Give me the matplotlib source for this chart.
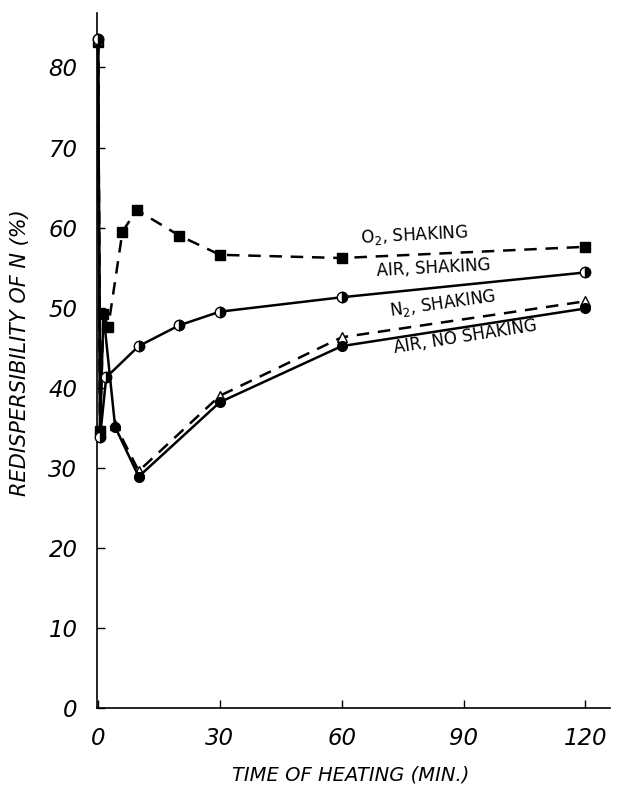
import matplotlib
matplotlib.use("Agg")
import matplotlib.pyplot as plt

# ---- data ----
o2_x = [0, 0.5, 1.3, 2.5, 6, 9.5, 20, 30, 60, 120]
o2_y = [83.2, 34.6, 49.2, 47.6, 59.5, 62.2, 59.0, 56.6, 56.2, 57.6]

airsh_x = [0, 0.5, 2, 10, 20, 30, 60, 120]
airsh_y = [83.5, 33.9, 41.3, 45.2, 47.8, 49.5, 51.3, 54.4]

n2_x = [0, 0.5, 4.2, 10, 30, 60, 120]
n2_y = [83.4, 34.4, 35.4, 29.6, 39.0, 46.3, 50.8]

airns_x = [0, 0.5, 1.3, 4.2, 10, 30, 60, 120]
airns_y = [83.5, 34.4, 49.3, 35.1, 28.9, 38.2, 45.2, 49.9]

xticks = [0, 30, 60, 90, 120]
yticks = [0, 10, 20, 30, 40, 50, 60, 70, 80]

labels = ["O$_2$, SHAKING", "AIR, SHAKING", "N$_2$, SHAKING", "AIR, NO SHAKING"]

fig = plt.figure(figsize=(6.21, 7.88), dpi=100)
ax = fig.add_axes([0.156, 0.1015, 0.826, 0.882])

lw = 1.8
ax.plot(o2_x, o2_y, ls=(0, (5, 3.5)), color="black", lw=lw, marker="s", ms=6.5,
        mfc="black", mec="black", clip_on=False, zorder=3)
ax.plot(airsh_x, airsh_y, ls="-", color="black", lw=lw, marker="o", ms=7.5,
        fillstyle="right", mfc="black", mfcalt="white", mec="black", mew=1.0,
        clip_on=False, zorder=4)
ax.plot(n2_x, n2_y, ls=(0, (5, 3.5)), color="black", lw=lw, marker="^", ms=7,
        mfc="white", mec="black", mew=1.0, clip_on=False, zorder=3)
ax.plot(airns_x, airns_y, ls="-", color="black", lw=lw, marker="o", ms=7,
        mfc="black", mec="black", clip_on=False, zorder=3)

ax.set_xlim(-0.3, 126)
ax.set_ylim(0, 86.8)

for s in ["top", "right"]:
    ax.spines[s].set_visible(False)
for s in ["left", "bottom"]:
    ax.spines[s].set_linewidth(1.2)

ax.set_xticks(xticks)
ax.set_yticks(yticks)
ax.tick_params(direction="in", length=6, width=1.0, labelsize=16.5)
ax.tick_params(axis="x", pad=14)
ax.tick_params(axis="y", pad=14)
for t in ax.get_xticklabels() + ax.get_yticklabels():
    t.set_fontstyle("italic")

fig.text(0.565, 0.017, "TIME OF HEATING (MIN.)", fontsize=14, fontstyle="italic",
         ha="center", va="center")
ax.set_ylabel("REDISPERSIBILITY OF N (%)", fontsize=15, fontstyle="italic",
              va="center", ha="center")
ax.yaxis.set_label_coords(-0.15, 0.511)

tkw = dict(fontsize=12, color="black", ha="left", va="bottom")
ax.text(64.5, 57.4, labels[0], rotation=3, **tkw)
ax.text(68.5, 53.4, labels[1], rotation=3, **tkw)
ax.text(71.5, 48.3, labels[2], rotation=8, **tkw)
ax.text(72.5, 43.8, labels[3], rotation=9, **tkw)

fig.savefig("out.png", dpi=100)
